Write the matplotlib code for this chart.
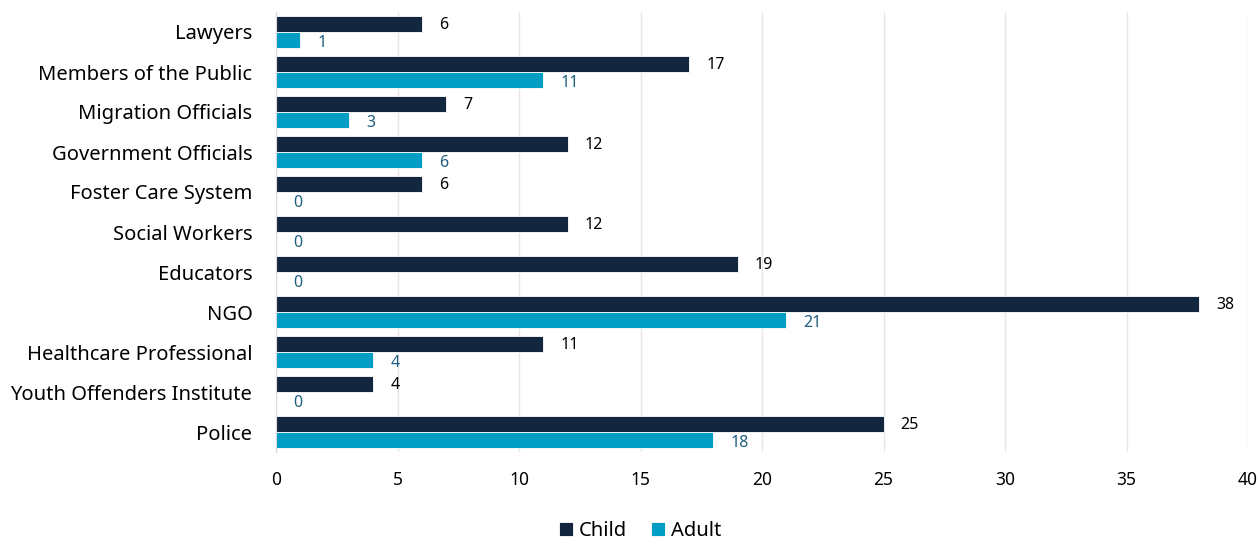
import numpy as np
import matplotlib.pyplot as plt

categories = ["Lawyers", "Members of the Public", "Migration Officials",
              "Government Officials", "Foster Care System", "Social Workers",
              "Educators", "NGO", "Healthcare Professional",
              "Youth Offenders Institute", "Police"]
child = [6, 17, 7, 12, 6, 12, 19, 38, 11, 4, 25]
adult = [1, 11, 3, 6, 0, 0, 0, 21, 4, 0, 18]

child_color = "#12263f"
adult_color = "#009dc4"

plt.rcParams['font.family'] = ['Noto Sans', 'DejaVu Sans']

fig = plt.figure(figsize=(12.59, 5.39), dpi=100)
ax = fig.add_axes([276 / 1259, 1 - 452 / 539, (1248 - 276) / 1259, 440 / 539])

y = np.arange(len(categories))
h = 0.4
ax.barh(y - h / 2, child, height=h, color=child_color, edgecolor="white",
        linewidth=0.6, label="Child", zorder=3)
ax.barh(y + h / 2, adult, height=h, color=adult_color, edgecolor="white",
        linewidth=0.6, label="Adult", zorder=3)

# value labels next to each bar
for i in range(len(categories)):
    ax.text(child[i] + 0.7, y[i] - h / 2 + 0.03, str(child[i]), va="center",
            ha="left", fontsize=11.5, color="black")
    ax.text(adult[i] + 0.7, y[i] + h / 2 + 0.08, str(adult[i]), va="center",
            ha="left", fontsize=11.5, color="#1f5f7f")

ax.set_yticks(y)
ax.set_yticklabels(categories, fontsize=14.5)
ax.set_ylim(len(categories) - 0.5, -0.5)
ax.set_xlim(0, 40)
ax.set_xticks(np.arange(0, 41, 5))
ax.tick_params(axis="x", labelsize=12.5, length=0, pad=14)
ax.tick_params(axis="y", length=0, pad=17)
ax.grid(axis="x", color="#e6e6e6", linewidth=1, zorder=0)
for s in ["top", "right", "bottom"]:
    ax.spines[s].set_visible(False)
ax.spines["left"].set_color("#d9d9d9")
ax.spines["left"].set_zorder(4)

fig.legend(loc="center", bbox_to_anchor=(640 / 1259, 1 - 531 / 539), ncol=2,
           frameon=False, fontsize=14.5, handlelength=0.7, handleheight=0.7,
           handletextpad=0.3, columnspacing=1.2)

fig.savefig("out.png", dpi=100)
